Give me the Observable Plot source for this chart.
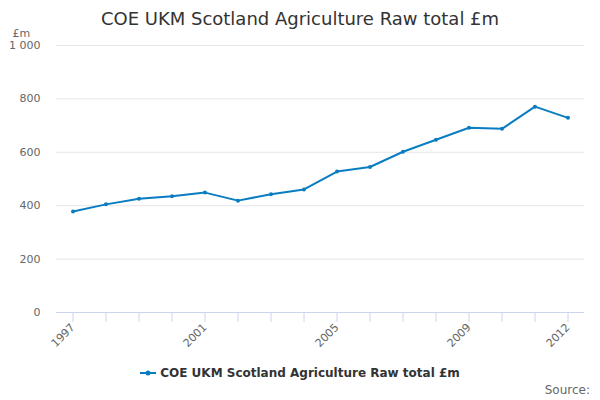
<!DOCTYPE html>
<html>
<head>
<meta charset="utf-8">
<script src="https://cdn.jsdelivr.net/npm/d3@7"></script>
<script src="https://cdn.jsdelivr.net/npm/@observablehq/plot@0.6"></script>
<style>
  html, body { margin: 0; padding: 0; background: #fff; }
  #wrap { position: relative; width: 600px; height: 400px; overflow: hidden; font-family: "DejaVu Sans", sans-serif; }
  #title { position: absolute; top: 0; left: 0; width: 600px; text-align: center; font-size: 18px; line-height: 37px; color: #333; }
  #chart { position: absolute; top: 20px; left: 0; }
  #legend { position: absolute; top: 364px; left: 0; width: 600px; text-align: center; font-size: 12px; font-weight: bold; color: #333; line-height: 18px; }
  #legend svg { vertical-align: middle; margin-right: 4px; position: relative; top: -1px; }
  #source { position: absolute; top: 382px; right: 10px; font-size: 12px; color: #666; line-height: 16px; }
</style>
</head>
<body>
<div id="wrap">
  <div id="title">COE UKM Scotland Agriculture Raw total £m</div>
  <div id="chart"></div>
  <div id="legend"><svg width="16" height="8"><line x1="0" y1="4" x2="16" y2="4" stroke="#0a7dc2" stroke-width="2"></line><circle cx="8" cy="4" r="2.5" fill="#0a7dc2"></circle></svg>COE UKM Scotland Agriculture Raw total £m</div>
  <div id="source">Source:</div>
</div>
<script>
const years = [1997, 1998, 1999, 2000, 2001, 2002, 2003, 2004, 2005, 2006, 2007, 2008, 2009, 2010, 2011, 2012];
const values = [378, 405, 426, 435, 449, 419, 443, 461, 528, 545, 602, 647, 692, 688, 771, 729];
const yTicks = [0, 200, 400, 600, 800, 1000];
const labelYears = [1997, 2001, 2005, 2009, 2012];
const lineColor = "#0a7dc2";

const data = years.map((y, i) => ({year: y, value: values[i]}));

const chart = Plot.plot({
  width: 600,
  height: 340,
  marginTop: 25,
  marginBottom: 48,
  marginLeft: 56,
  marginRight: 16,
  style: {fontFamily: "DejaVu Sans, sans-serif", fontSize: "11px", color: "#666", background: "transparent"},
  x: {domain: [1996.5, 2012.5]},
  y: {domain: [0, 1000]},
  marks: [
    Plot.ruleY(yTicks.filter(d => d > 0), {stroke: "#e6e6e6", strokeWidth: 1}),
    Plot.axisY({ticks: yTicks, tickSize: 0, tickPadding: 16, label: null,
      tickFormat: d => d >= 1000 ? d3.format(",")(d).replace(",", " ") : String(d)}),
    Plot.axisX({ticks: years, tickSize: 10, tickPadding: 3, stroke: "#ccd6eb", strokeOpacity: 1, tickRotate: -45, label: null,
      tickFormat: d => labelYears.includes(d) ? String(d) : ""}),
    Plot.ruleY([0], {stroke: "#ccd6eb", strokeWidth: 1}),
    Plot.line(data, {x: "year", y: "value", stroke: lineColor, strokeWidth: 2}),
    Plot.dot(data, {x: "year", y: "value", fill: lineColor, r: 2}),
    Plot.text(["£m"], {frameAnchor: "top-left", dx: -44, dy: -16, textAnchor: "start", fill: "#666", fontSize: 11})
  ]
});
document.getElementById("chart").appendChild(chart);
</script>
</body>
</html>
